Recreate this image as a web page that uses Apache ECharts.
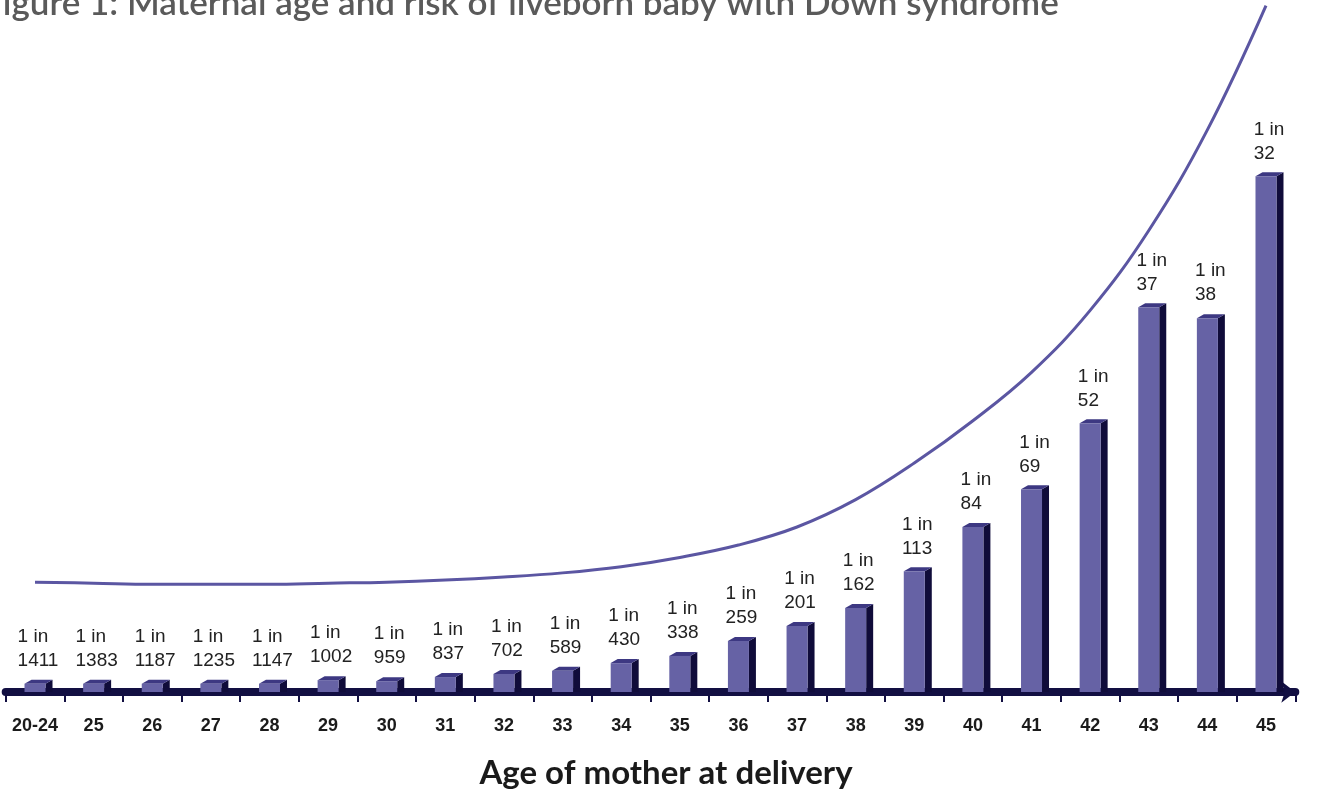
<!DOCTYPE html>
<html>
<head>
<meta charset="utf-8">
<script src="https://cdn.jsdelivr.net/npm/echarts@6/dist/echarts.min.js"></script>
<style>
  html, body { margin: 0; padding: 0; background: #fff; }
  #main { width: 1324px; height: 793px; }
</style>
</head>
<body>
<div id="main"></div>
<script>
// age groups on the x axis
var ageLabels = ['20-24','25','26','27','28','29','30','31','32','33','34','35','36','37','38','39','40','41','42','43','44','45'];
// risk shown above each bar: "1 in N"
var oneIn = [1411,1383,1187,1235,1147,1002,959,837,702,589,430,338,259,201,162,113,84,69,52,37,38,32];
// bar heights as drawn in the figure (relative units, age 45 = 100)
var barLevel = [1.6,1.6,1.6,1.6,1.6,2.3,2.1,2.9,3.5,4.1,5.6,7.0,9.9,12.8,16.3,23.4,32.0,39.3,52.1,74.6,72.5,100];
// trend curve drawn over the bars (same units)
var trendLevel = [21.3,21.1,20.9,20.9,20.9,21.1,21.3,21.7,22.3,23.1,24.3,26.1,28.5,32.0,37.3,44.4,52.6,62.0,74.0,89.5,109.0,133.1];

var myChart = echarts.init(document.getElementById('main'));

var barData = barLevel.map(function (v, i) { return [i, v, oneIn[i]]; });

function renderBar(params, api) {
  var top = api.coord([api.value(0), api.value(1)]);
  var base = api.coord([api.value(0), 0]);
  var w = 21, d = 7, k = 4;
  var L = top[0] - w / 2, R = top[0] + w / 2;
  var ty = top[1], by = base[1];
  return {
    type: 'group',
    children: [
      { type: 'polygon', shape: { points: [[R, ty], [R + d, ty - k], [R + d, by], [R, by]] }, style: { fill: '#100c3a' } },
      { type: 'polygon', shape: { points: [[L, ty], [L + d, ty - k], [R + d, ty - k], [R, ty]] }, style: { fill: '#3d3882' } },
      { type: 'rect', shape: { x: L, y: ty, width: w, height: by - ty }, style: { fill: '#6662a5' } },
      {
        type: 'text',
        x: top[0] + 3,
        y: ty - 11,
        style: {
          text: '{a|1 in}\n{a|' + api.value(2) + '}',
          align: 'center', textAlign: 'center',
          verticalAlign: 'bottom', textVerticalAlign: 'bottom',
          rich: { a: { align: 'left', fontSize: 19, lineHeight: 24, fontFamily: 'Liberation Sans, Arial', color: '#222', fill: '#222' } }
        }
      }
    ]
  };
}

var option = {
  animation: false,
  backgroundColor: '#fff',
  grid: { left: 5.7, right: 28.7, top: 1, bottom: 101 },
  xAxis: {
    type: 'category',
    data: ageLabels,
    boundaryGap: true,
    offset: 2,
    axisLine: {
      lineStyle: { color: '#120f42', width: 8 },
      symbol: ['none', 'arrow'],
      symbolSize: [16, 14]
    },
    axisTick: { show: true, interval: 0, length: 10, lineStyle: { color: '#120f42', width: 2 } },
    axisLabel: {
      interval: 0,
      fontSize: 18,
      fontWeight: 'bold',
      fontFamily: 'Liberation Sans, Arial',
      color: '#1b1b1b',
      margin: 23
    },
    splitLine: { show: false }
  },
  yAxis: { type: 'value', min: 0, max: 134, show: false },
  series: [
    {
      type: 'custom',
      renderItem: renderBar,
      data: barData,
      encode: { x: 0, y: 1 },
      z: 3
    },
    {
      type: 'line',
      data: trendLevel,
      smooth: 0.4,
      symbol: 'none',
      clip: false,
      lineStyle: { color: '#5b56a2', width: 3 },
      z: 4
    }
  ],
  graphic: [
    {
      type: 'text',
      x: -17, y: 21,
      style: {
        text: 'Figure 1: Maternal age and risk of liveborn baby with Down syndrome',
        font: '600 35px Lato, "Open Sans", sans-serif',
        fill: '#5a5a5a',
        align: 'left', textAlign: 'left',
        verticalAlign: 'bottom', textVerticalAlign: 'bottom'
      }
    },
    {
      type: 'text',
      x: 666, y: 773,
      style: {
        text: 'Age of mother at delivery',
        font: 'bold 33px Lato, "Open Sans", sans-serif',
        fill: '#1a1a1a',
        align: 'center', textAlign: 'center',
        verticalAlign: 'middle', textVerticalAlign: 'middle'
      }
    }
  ]
};

option && myChart.setOption(option);
</script>
</body>
</html>
